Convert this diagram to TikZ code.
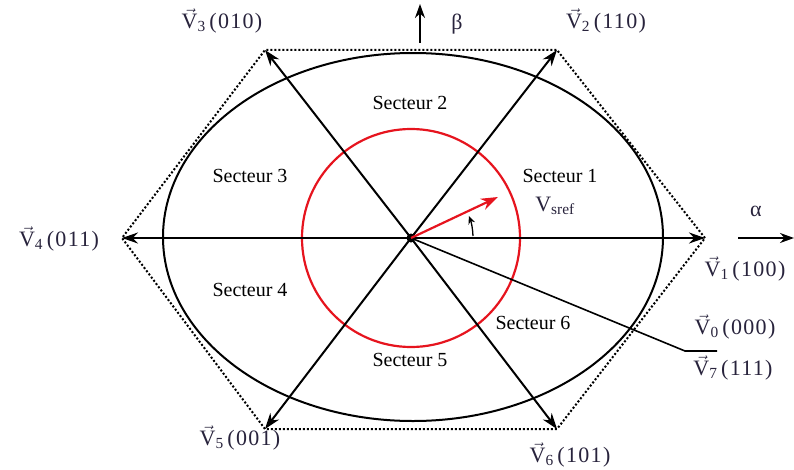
\documentclass[tikz,border=0pt]{standalone}
\usepackage{amsmath}
\usepackage{fontspec}
\setmainfont{Liberation Serif}
\usepackage{tikz}
\usetikzlibrary{arrows.meta,calc}
\definecolor{labelink}{RGB}{40,35,60}
\definecolor{refred}{RGB}{230,20,30}
\newcommand{\vlab}[2]{$\vec{\text{V}}_{\text{#1}}$\,{\addfontfeatures{LetterSpace=6}(#2)}}
\tikzset{
  vecarrow/.style={line width=2pt,-{Stealth[length=16pt,width=11pt]}},
  axisarrow/.style={line width=2pt,-{Stealth[length=14pt,width=10pt]}},
  vtext/.style={text=labelink,font=\fontsize{22}{24}\selectfont,inner sep=0pt},
  sectext/.style={text=black,font=\fontsize{20}{22}\selectfont,inner sep=1pt}
}

\begin{document}
\begin{tikzpicture}[x=1pt,y=1pt]
    \useasboundingbox (-411,-231) rectangle (383,238);
    % hexagon corners
    \coordinate (h1) at (294,0);     \coordinate (h2) at (146,188);
    \coordinate (h3) at (-146,188);  \coordinate (h4) at (-289,0);
    \coordinate (h5) at (-146,-191); \coordinate (h6) at (146,-191);
    \draw[line width=2pt,dotted] (h1) -- (h2) -- (h3) -- (h4) -- (h5) -- (h6) -- cycle;
    % circle of the ellipse and reference circle
    \draw[line width=2pt] (2,1) ellipse (250 and 184);
    \draw[refred,line width=2.2pt] (0,0) circle (109);
    \node[circle,fill=black,inner sep=0pt,minimum size=9pt] (O) at (0,0) {};
    % the six active vectors
    \foreach \k in {1,...,6} \draw[vecarrow] (O.center) -- (h\k);
    % zero vectors V0 / V7
    \coordinate (z1) at (274,-113);  \coordinate (z2) at (306,-113);
    \draw[line width=1.6pt] (O.center) -- (z1) -- (z2);
    % reference vector and angle
    \coordinate (vref) at (87,41);
    \draw[refred,line width=2.2pt,-{Stealth[length=17pt,width=12pt]}] (O.center) -- (vref);
    \draw[line width=1.3pt,-{Stealth[length=8pt,width=7pt]}] (62,2) arc (2:21:62);
    % axes
    \coordinate (b0) at (9,195);  \coordinate (b1) at (9,234);
    \draw[axisarrow] (b0) -- (b1);
    \coordinate (a0) at (327,0);  \coordinate (a1) at (383,0);
    \draw[axisarrow] (a0) -- (a1);
    \node[vtext] (beta) at (46,214) {β};
    \node[vtext] (alpha) at (345,27) {α};
    % vector labels
    \node[vtext] (l3) at (-189,217) {\vlab{3}{010}};
    \node[vtext] (l2) at (195,217) {\vlab{2}{110}};
    \node[vtext] (l4) at (-352,-1) {\vlab{4}{011}};
    \node[vtext] (l1) at (334,-31) {\vlab{1}{100}};
    \node[vtext] (l0) at (324,-89) {\vlab{0}{000}};
    \node[vtext] (l7) at (322,-130) {\vlab{7}{111}};
    \node[vtext] (l5) at (-171,-200) {\vlab{5}{001}};
    \node[vtext] (l6) at (159,-217) {\vlab{6}{101}};
    \node[vtext] (lref) at (144,32) {V$_{\text{sref}}$};
    % sectors
    \node[sectext] (s1) at (149,62) {Secteur 1};
    \node[sectext] (s2) at (-1,135) {Secteur 2};
    \node[sectext] (s3) at (-161,62) {Secteur 3};
    \node[sectext] (s4) at (-161,-52) {Secteur 4};
    \node[sectext] (s5) at (-1,-122) {Secteur 5};
    \node[sectext] (s6) at (122,-85) {Secteur 6};
\end{tikzpicture}
\end{document}
